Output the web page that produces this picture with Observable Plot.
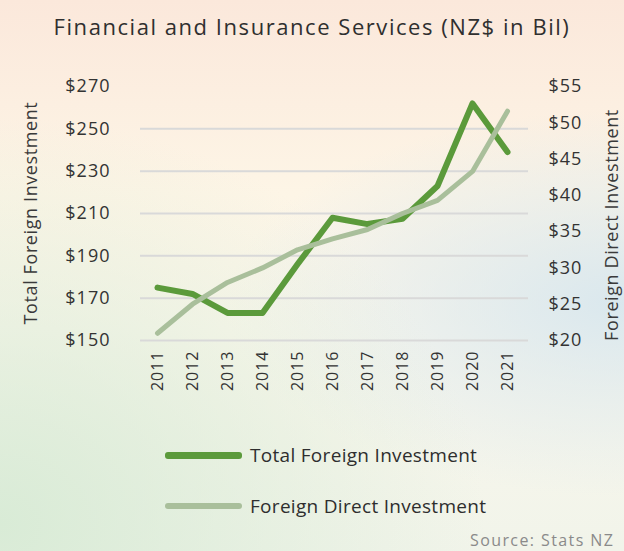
<!DOCTYPE html>
<html>
<head>
<meta charset="utf-8">
<script src="https://cdn.jsdelivr.net/npm/d3@7"></script>
<script src="https://cdn.jsdelivr.net/npm/@observablehq/plot@0.6"></script>
<style>
  html, body { margin: 0; padding: 0; }
  body { width: 624px; height: 551px; overflow: hidden; position: relative;
    font-family: "Open Sans", "DejaVu Sans", sans-serif; color: #2e2e2e;
    background:
      radial-gradient(ellipse at 0% 95%, rgba(214,234,212,0.9), rgba(214,234,212,0) 55%),
      radial-gradient(ellipse at 100% 55%, rgba(214,230,238,0.9), rgba(214,230,238,0) 45%),
      linear-gradient(180deg, #fbe8db 0%, #fdf5e6 35%, #fbf7ec 60%, #f1f4ea 100%);
  }
  #title { position: absolute; left: 0; width: 624px; top: 11px; text-align: center;
    font-size: 22px; letter-spacing: 1.55px; line-height: 30px; color: #2f2f2f; }
  #chart { position: absolute; left: 0; top: 55px; }
  .ylab { position: absolute; font-size: 18px; letter-spacing: 0.6px; color: #3a3a3a; white-space: nowrap;
    transform: rotate(-90deg); transform-origin: center center; }
  .leg { position: absolute; display: flex; align-items: center; font-size: 19px; letter-spacing: 0.3px; color: #2e2e2e; white-space: nowrap; }
  .sw { display: inline-block; width: 77px; margin-right: 8px; border-radius: 3px; }
  #source { position: absolute; left: 470px; top: 529px; font-size: 16px; color: #8a8a8a; letter-spacing: 1.4px; white-space: nowrap; }
</style>
</head>
<body>
<div id="title">Financial and Insurance Services (NZ$ in Bil)</div>
<div id="chart"></div>
<div class="ylab" id="ylabL">Total Foreign Investment</div>
<div class="ylab" id="ylabR">Foreign Direct Investment</div>
<div class="leg" style="left:165px; top:442px;"><span class="sw" style="height:7px; background:#5b9a3b;"></span>Total Foreign Investment</div>
<div class="leg" style="left:165px; top:493px;"><span class="sw" style="height:6px; background:#a9bf9b;"></span>Foreign Direct Investment</div>
<div id="source">Source: Stats NZ</div>
<script>
const years = [2011, 2012, 2013, 2014, 2015, 2016, 2017, 2018, 2019, 2020, 2021];
const totalForeign = [175, 172, 163, 163, 186, 208, 205, 207.5, 223, 262, 239];
const directForeign = [21, 25, 28, 30, 32.5, 34, 35.3, 37.5, 39.3, 43.3, 51.6];
const leftTicks = [150, 170, 190, 210, 230, 250, 270];
const rightTicks = [20, 25, 30, 35, 40, 45, 50, 55];

// map right-axis values onto the left-axis scale
const toLeft = v => 150 + (v - 20) * 120 / 35;
const fromLeft = y => 20 + (y - 150) * 35 / 120;

const data = years.map((year, i) => ({year, total: totalForeign[i], direct: directForeign[i]}));

const W = 624, H = 360;
const plot = Plot.plot({
  width: W, height: H,
  marginTop: 31, marginBottom: 75, marginLeft: 140, marginRight: 96,
  style: {background: "transparent", fontFamily: "'Open Sans', 'DejaVu Sans', sans-serif", fontSize: "18px", color: "#333", letterSpacing: "1px"},
  x: {type: "linear", domain: [2011, 2021], insetLeft: 17, insetRight: 21},
  y: {domain: [150, 270]},
  marks: [
    Plot.gridY(leftTicks.filter(d => d < 270), {stroke: "#d9d9d9", strokeOpacity: 1, strokeWidth: 2}),
    Plot.axisY(leftTicks, {anchor: "left", tickSize: 0, tickPadding: 30, label: null, tickFormat: d => "$" + d, fontSize: 18, fill: "#333"}),
    Plot.axisY(rightTicks.map(toLeft), {anchor: "right", tickSize: 0, tickPadding: 20, label: null, tickFormat: d => "$" + Math.round(fromLeft(d)), fontSize: 18, fill: "#333"}),
    Plot.axisX(years, {anchor: "bottom", tickSize: 0, tickPadding: 10, tickRotate: -90, label: null, tickFormat: d => String(d), fontSize: 16, fill: "#333"}),
    Plot.lineY(data, {x: "year", y: "total", stroke: "#5b9a3b", strokeWidth: 6}),
    Plot.lineY(data, {x: "year", y: d => toLeft(d.direct), stroke: "#a9bf9b", strokeWidth: 5})
  ]
});
document.getElementById("chart").appendChild(plot);

// rotated axis titles
function placeRotated(id, cx, cy) {
  const el = document.getElementById(id);
  el.style.left = (cx - el.offsetWidth / 2) + "px";
  el.style.top = (cy - el.offsetHeight / 2) + "px";
}
placeRotated("ylabL", 30, 213);
placeRotated("ylabR", 611, 225);
</script>
</body>
</html>
